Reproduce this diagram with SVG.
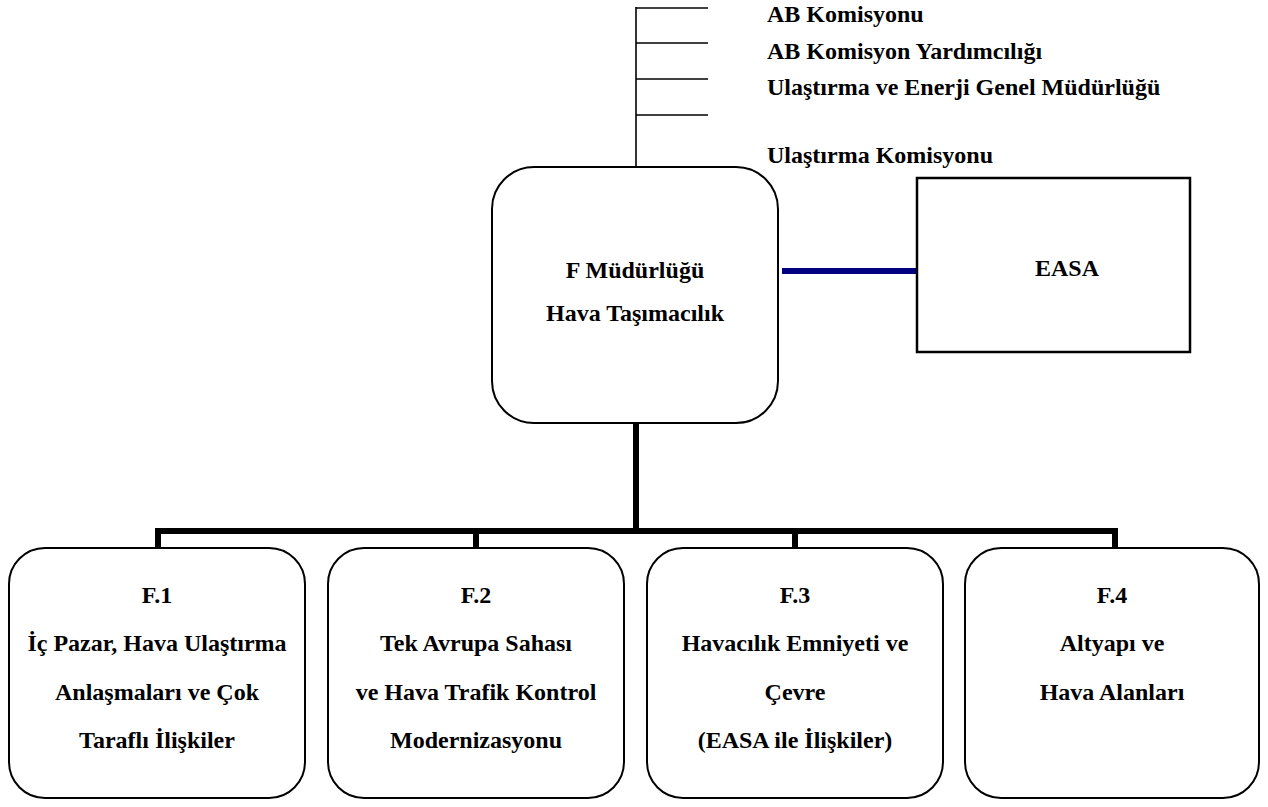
<svg xmlns="http://www.w3.org/2000/svg" width="1268" height="807" viewBox="0 0 1268 807">
<style>
.top{font-family:'Liberation Serif','DejaVu Serif',serif;font-weight:700;font-size:24px;fill:#000}
.bx{font-family:'Liberation Serif','DejaVu Serif',serif;font-weight:700;font-size:24px;fill:#000;text-anchor:middle}
.rbox{fill:#fff;stroke:#000;stroke-width:2}
.thin{stroke:#000;stroke-width:1.6;fill:none}
.thick{stroke:#000;stroke-width:6;fill:none}
</style>
<rect width="1268" height="807" fill="#fff"/>
<g id="connectors">
<line class="thin" x1="636" y1="7" x2="636" y2="168"/>
<line class="thin" x1="636" y1="8" x2="708" y2="8"/>
<line class="thin" x1="636" y1="43" x2="708" y2="43"/>
<line class="thin" x1="636" y1="79" x2="708" y2="79"/>
<line class="thin" x1="636" y1="115" x2="708" y2="115"/>
<line x1="782" y1="271" x2="917" y2="271" stroke="#000080" stroke-width="6"/>
<line class="thick" x1="636" y1="423" x2="636" y2="531"/>
<polyline class="thick" points="158,548 158,531 1115,531 1115,548"/>
<line class="thick" x1="476" y1="531" x2="476" y2="548"/>
<line class="thick" x1="795" y1="531" x2="795" y2="548"/>
</g>
<g id="labels-top">
<text class="top" x="767" y="22">AB Komisyonu</text>
<text class="top" x="767" y="59">AB Komisyon Yardımcılığı</text>
<text class="top" x="767" y="95">Ulaştırma ve Enerji Genel Müdürlüğü</text>
<text class="top" x="767" y="163">Ulaştırma Komisyonu</text>
</g>
<g id="main">
<rect class="rbox" x="492" y="167" width="286" height="256" rx="42" ry="42"/>
<text class="bx" x="635" y="278">F Müdürlüğü</text>
<text class="bx" x="635" y="321">Hava Taşımacılık</text>
</g>
<g id="easa">
<rect x="917" y="178" width="273" height="174" fill="#fff" stroke="#000" stroke-width="2.5"/>
<text class="bx" x="1067" y="276">EASA</text>
</g>
<g id="f1">
<rect class="rbox" x="9" y="548" width="296" height="250" rx="36" ry="36"/>
<text class="bx" x="157" y="603">F.1</text>
<text class="bx" x="157" y="651">İç Pazar, Hava Ulaştırma</text>
<text class="bx" x="157" y="700">Anlaşmaları ve Çok</text>
<text class="bx" x="157" y="748">Taraflı İlişkiler</text>
</g>
<g id="f2">
<rect class="rbox" x="328" y="548" width="296" height="250" rx="36" ry="36"/>
<text class="bx" x="476" y="603">F.2</text>
<text class="bx" x="476" y="651">Tek Avrupa Sahası</text>
<text class="bx" x="476" y="700">ve Hava Trafik Kontrol</text>
<text class="bx" x="476" y="748">Modernizasyonu</text>
</g>
<g id="f3">
<rect class="rbox" x="647" y="548" width="296" height="250" rx="36" ry="36"/>
<text class="bx" x="795" y="603">F.3</text>
<text class="bx" x="795" y="651">Havacılık Emniyeti ve</text>
<text class="bx" x="795" y="700">Çevre</text>
<text class="bx" x="795" y="748">(EASA ile İlişkiler)</text>
</g>
<g id="f4">
<rect class="rbox" x="965" y="548" width="294" height="250" rx="36" ry="36"/>
<text class="bx" x="1112" y="603">F.4</text>
<text class="bx" x="1112" y="651">Altyapı ve</text>
<text class="bx" x="1112" y="700">Hava Alanları</text>
</g>
</svg>
